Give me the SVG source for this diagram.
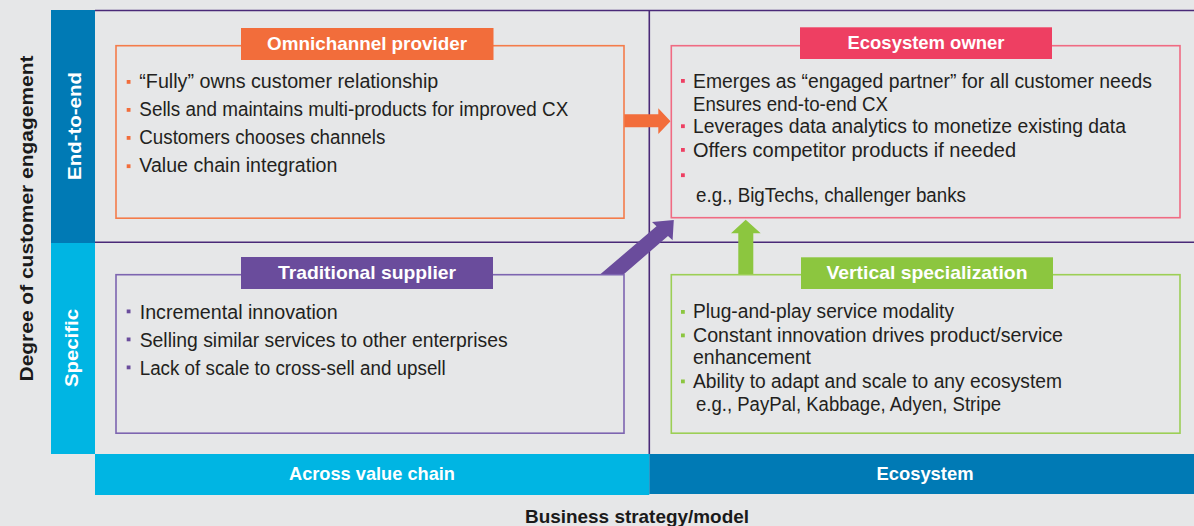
<svg xmlns="http://www.w3.org/2000/svg" width="1194" height="526" viewBox="0 0 1194 526">
  <style>
    .body { font-family: "Liberation Sans", Arial, sans-serif; font-size: 19.5px; fill: #231f20; }
    .title { font-family: "Liberation Sans", Arial, sans-serif; font-size: 18.5px; font-weight: bold; fill: #ffffff; text-anchor: middle; }
    .axis { font-family: "Liberation Sans", Arial, sans-serif; font-size: 18.5px; font-weight: bold; fill: #ffffff; text-anchor: middle; }
    .axisdark { font-family: "Liberation Sans", Arial, sans-serif; font-size: 19px; font-weight: bold; fill: #1a1a1a; text-anchor: middle; }
    .grid { stroke: #4a2a78; stroke-width: 1.6; fill: none; }
    .box { fill: none; stroke-width: 1.6; }
  </style>
  <rect x="0" y="0" width="1194" height="526" fill="#e6e7e8"/>

  <!-- grid lines -->
  <g id="grid">
    <line class="grid" x1="95" y1="10.5" x2="1194" y2="10.5"/>
    <line class="grid" x1="95" y1="242.3" x2="1194" y2="242.3"/>
    <line class="grid" x1="649.3" y1="10.5" x2="649.3" y2="454"/>
  </g>

  <!-- vertical axis -->
  <g id="axis-y">
    <rect x="51" y="10" width="44" height="233" fill="#007ab5"/>
    <rect x="51" y="243" width="44" height="211" fill="#00b5e3"/>
    <text class="axis" transform="translate(80.5,126) rotate(-90)" textLength="108" lengthAdjust="spacingAndGlyphs">End-to-end</text>
    <text class="axis" transform="translate(78,348) rotate(-90)" textLength="78" lengthAdjust="spacingAndGlyphs">Specific</text>
    <text class="axisdark" transform="translate(33,218.5) rotate(-90)" textLength="326" lengthAdjust="spacingAndGlyphs">Degree of customer engagement</text>
  </g>

  <!-- horizontal axis -->
  <g id="axis-x">
    <rect x="95" y="454" width="554.3" height="41" fill="#00b5e3"/>
    <rect x="649.3" y="454" width="544.7" height="40" fill="#007ab5"/>
    <text class="axis" x="372" y="479.5" textLength="166" lengthAdjust="spacingAndGlyphs">Across value chain</text>
    <text class="axis" x="925" y="480" textLength="97" lengthAdjust="spacingAndGlyphs">Ecosystem</text>
    <text class="axisdark" x="637" y="523.3" font-size="17.5" textLength="224" lengthAdjust="spacingAndGlyphs">Business strategy/model</text>
  </g>

  <!-- connectors -->
  <g id="connectors">
    <polygon id="arrow-orange" fill="#f26d3b" points="624,114.3 658.3,114.3 658.3,108.3 670.5,121.2 658.3,134 658.3,127.3 624,127.3"/>
    <polygon id="arrow-purple" fill="#6a4c9c" points="600,274.5 656.5,226.3 652,222 673.8,220 672.6,240.2 668,236 623.5,274.5"/>
    <polygon id="arrow-green" fill="#8cc63f" points="738.3,274.3 738.3,233.3 731,233.3 745.7,219.8 760.7,233.3 753.3,233.3 753.3,274.3"/>
  </g>

  <!-- Omnichannel provider -->
  <g id="node-omnichannel">
    <rect class="box" x="116" y="45.7" width="508" height="172.5" stroke="#f47c4a"/>
    <rect x="241" y="28" width="252.5" height="32" fill="#f26d3b"/>
    <text class="title" x="367" y="49.5" textLength="200" lengthAdjust="spacingAndGlyphs">Omnichannel provider</text>
    <g fill="#f26d3b">
      <rect x="126.7" y="80" width="3.8" height="3.8"/>
      <rect x="126.7" y="108" width="3.8" height="3.8"/>
      <rect x="126.7" y="136" width="3.8" height="3.8"/>
      <rect x="126.7" y="164.3" width="3.8" height="3.8"/>
    </g>
    <text class="body" x="139.3" y="88.3" textLength="299" lengthAdjust="spacingAndGlyphs">“Fully” owns customer relationship</text>
    <text class="body" x="139.3" y="116.2" textLength="429" lengthAdjust="spacingAndGlyphs">Sells and maintains multi-products for improved CX</text>
    <text class="body" x="139.3" y="144.2" textLength="246" lengthAdjust="spacingAndGlyphs">Customers chooses channels</text>
    <text class="body" x="139.3" y="172.3" textLength="198" lengthAdjust="spacingAndGlyphs">Value chain integration</text>
  </g>

  <!-- Ecosystem owner -->
  <g id="node-ecosystem-owner">
    <rect class="box" x="671.3" y="45.7" width="508.7" height="172" stroke="#f06b82"/>
    <rect x="800" y="27.3" width="252" height="31.7" fill="#ee3f62"/>
    <text class="title" x="926" y="49.3" textLength="157" lengthAdjust="spacingAndGlyphs">Ecosystem owner</text>
    <g fill="#ee3f62">
      <rect x="681" y="79" width="3.8" height="3.8"/>
      <rect x="681" y="124.3" width="3.8" height="3.8"/>
      <rect x="681" y="148" width="3.8" height="3.8"/>
      <rect x="681" y="173.3" width="3.8" height="3.8"/>
    </g>
    <text class="body" x="693" y="88.3" textLength="459" lengthAdjust="spacingAndGlyphs">Emerges as “engaged partner” for all customer needs</text>
    <text class="body" x="693" y="110.7" textLength="195" lengthAdjust="spacingAndGlyphs">Ensures end-to-end CX</text>
    <text class="body" x="693" y="133.3" textLength="433" lengthAdjust="spacingAndGlyphs">Leverages data analytics to monetize existing data</text>
    <text class="body" x="693" y="156.7" textLength="323" lengthAdjust="spacingAndGlyphs">Offers competitor products if needed</text>
    <text class="body" x="696" y="201.7" textLength="270" lengthAdjust="spacingAndGlyphs">e.g., BigTechs, challenger banks</text>
  </g>

  <!-- Traditional supplier -->
  <g id="node-traditional">
    <rect class="box" x="116" y="274.7" width="508" height="158.5" stroke="#7d65b0"/>
    <rect x="241" y="257" width="252" height="32" fill="#6a4c9c"/>
    <text class="title" x="367" y="279.3" textLength="178" lengthAdjust="spacingAndGlyphs">Traditional supplier</text>
    <g fill="#6a4c9c">
      <rect x="126.7" y="309.5" width="3.8" height="3.8"/>
      <rect x="126.7" y="337.5" width="3.8" height="3.8"/>
      <rect x="126.7" y="365.5" width="3.8" height="3.8"/>
    </g>
    <text class="body" x="139.7" y="318.7" textLength="198" lengthAdjust="spacingAndGlyphs">Incremental innovation</text>
    <text class="body" x="139.7" y="346.7" textLength="368" lengthAdjust="spacingAndGlyphs">Selling similar services to other enterprises</text>
    <text class="body" x="139.7" y="374.7" textLength="306" lengthAdjust="spacingAndGlyphs">Lack of scale to cross-sell and upsell</text>
  </g>

  <!-- Vertical specialization -->
  <g id="node-vertical">
    <rect class="box" x="671.3" y="274.7" width="508.7" height="158.5" stroke="#9ccf55"/>
    <rect x="801" y="257.3" width="252" height="31.7" fill="#8cc63f"/>
    <text class="title" x="927" y="279.2" textLength="201" lengthAdjust="spacingAndGlyphs">Vertical specialization</text>
    <g fill="#8cc63f">
      <rect x="681" y="310" width="3.8" height="3.8"/>
      <rect x="681" y="333.5" width="3.8" height="3.8"/>
      <rect x="681" y="379.5" width="3.8" height="3.8"/>
    </g>
    <text class="body" x="693" y="318.3" textLength="261" lengthAdjust="spacingAndGlyphs">Plug-and-play service modality</text>
    <text class="body" x="693" y="341.7" textLength="370" lengthAdjust="spacingAndGlyphs">Constant innovation drives product/service</text>
    <text class="body" x="693" y="364.3" textLength="118" lengthAdjust="spacingAndGlyphs">enhancement</text>
    <text class="body" x="693" y="387.7" textLength="369" lengthAdjust="spacingAndGlyphs">Ability to adapt and scale to any ecosystem</text>
    <text class="body" x="696" y="410.7" textLength="305" lengthAdjust="spacingAndGlyphs">e.g., PayPal, Kabbage, Adyen, Stripe</text>
  </g>
</svg>
